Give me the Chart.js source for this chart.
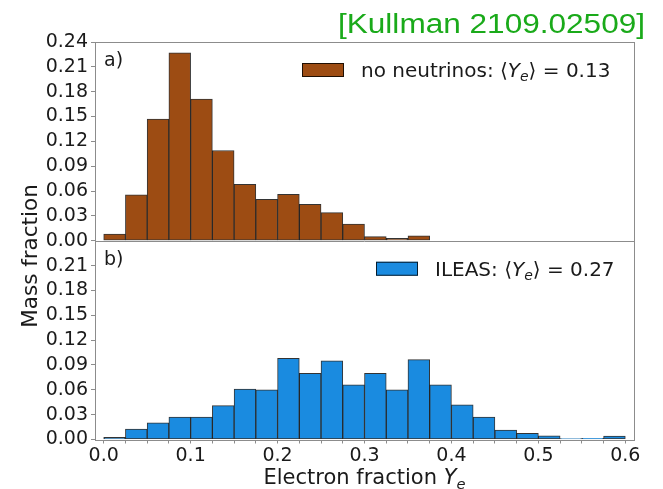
<!DOCTYPE html>
<html><head><meta charset="utf-8">
<script src="https://cdn.jsdelivr.net/npm/chart.js@4/dist/chart.umd.min.js"></script>
<style>html,body{margin:0;padding:0;background:#fff;}#wrap{width:663px;height:489px;position:relative;}</style>
</head><body><div id="wrap"><canvas id="c" width="663" height="489"></canvas></div>
<script>
// ---- data ----
const binCenters = [0.0125,0.0375,0.0625,0.0875,0.1125,0.1375,0.1625,0.1875,0.2125,0.2375,0.2625,0.2875,
                    0.3125,0.3375,0.3625,0.3875,0.4125,0.4375,0.4625,0.4875,0.5125,0.5375,0.5625,0.5875];
const noNeutrinos = [0.008,0.0555,0.147,0.227,0.171,0.109,0.068,0.050,0.056,0.044,0.034,0.020,
                     0.005,0.003,0.006,0,0,0,0,0,0,0,0,0];
const ileas = [0.0025,0.0125,0.020,0.027,0.027,0.041,0.061,0.060,0.098,0.080,0.095,0.066,
               0.080,0.060,0.0965,0.066,0.042,0.027,0.0113,0.0073,0.0045,0.001,0.0015,0.004];
const xMajorTicks = [0.0,0.1,0.2,0.3,0.4,0.5,0.6];
const xMinorTicks = [0.025,0.05,0.075,0.125,0.15,0.175,0.225,0.25,0.275,0.325,0.35,0.375,
                     0.425,0.45,0.475,0.525,0.55,0.575];
const yTicksTop = [0,0.03,0.06,0.09,0.12,0.15,0.18,0.21,0.24];
const yTicksBottom = [0,0.03,0.06,0.09,0.12,0.15,0.18,0.21];
const seriesNames = ['no neutrinos', 'ILEAS'];
const meanYe = ['0.13', '0.27'];
const panelLabels = ['a)', 'b)'];
const sourceLabel = '[Kullman 2109.02509]';
const xTitle = 'Electron fraction ';
const yTitle = 'Mass fraction';

// ---- styles ----
const BROWN = '#9d4c13';
const BLUE = '#1a8be0';
const EDGE = 'rgba(0,0,0,0.8)';
const GREY = '#8c8c8c';
const TXT = '#1a1a1a';
const FONT = 'DejaVu Sans';

function ds(vals, color, axis, name) {
  return {
    label: name,
    data: binCenters.map((x, i) => ({x: x, y: vals[i]})).filter(d => d.y > 0),
    yAxisID: axis,
    backgroundColor: color,
    borderColor: EDGE,
    borderWidth: 1,
    borderSkipped: false,
    grouped: false,
    barPercentage: 1,
    categoryPercentage: 1
  };
}

function yAxis(ticksArr) {
  return {
    type: 'linear', position: 'left', stack: 'panels', stackWeight: 1,
    min: 0, max: 0.24,
    afterBuildTicks: ax => { ax.ticks = ticksArr.map(v => ({value: v})); },
    afterFit: s => { s.width = 95; },
    ticks: { autoSkip: false, callback: v => v.toFixed(2), color: TXT, font: {family: FONT, size: 19}, padding: 3 },
    grid: { drawOnChartArea: false, tickLength: 4, color: GREY },
    border: { display: false }
  };
}

function drawMath(ctx, segs, x, y, align, size) {
  const fontFor = s => (s.italic ? 'oblique ' : '') + (s.sub ? (size * 0.7) : size) + 'px ' + FONT;
  let w = 0;
  for (const s of segs) { ctx.font = fontFor(s); w += ctx.measureText(s.t).width; }
  let cx = align === 'center' ? x - w / 2 : x;
  ctx.textAlign = 'left';
  ctx.textBaseline = 'alphabetic';
  for (const s of segs) {
    ctx.font = fontFor(s);
    ctx.fillText(s.t, cx, y + (s.sub ? size * 0.22 : 0));
    cx += ctx.measureText(s.t).width;
  }
  return w;
}

const overlay = {
  id: 'overlay',
  afterDatasetsDraw(chart) {
    const ctx = chart.ctx;
    const a = chart.chartArea;
    const mid = chart.scales.yTop.bottom;
    ctx.save();
    ctx.strokeStyle = GREY;
    ctx.lineWidth = 1;
    ctx.strokeRect(Math.round(a.left) + 0.5, Math.round(a.top) + 0.5,
                   Math.round(a.right - a.left), Math.round(a.bottom - a.top));
    ctx.beginPath();
    ctx.moveTo(a.left, Math.round(mid) + 0.5);
    ctx.lineTo(a.right, Math.round(mid) + 0.5);
    ctx.stroke();
    ctx.restore();
  },
  afterDraw(chart) {
    const ctx = chart.ctx;
    const a = chart.chartArea;
    const yT = chart.scales.yTop, yB = chart.scales.yBot;
    ctx.save();
    ctx.fillStyle = TXT;
    // panel labels
    ctx.font = '19px ' + FONT;
    ctx.textAlign = 'left'; ctx.textBaseline = 'alphabetic';
    ctx.fillText(panelLabels[0], a.left + 9, yT.top + 24);
    ctx.fillText(panelLabels[1], a.left + 9, yB.top + 24);
    // legends
    const legends = [
      {y: yT.top, color: BROWN, name: seriesNames[0], mean: meanYe[0], px: 302},
      {y: yB.top, color: BLUE, name: seriesNames[1], mean: meanYe[1], px: 376}
    ];
    for (const L of legends) {
      ctx.fillStyle = L.color;
      ctx.fillRect(L.px, L.y + 21, 42, 14);
      ctx.strokeStyle = EDGE; ctx.lineWidth = 1;
      ctx.strokeRect(L.px + 0.5, L.y + 21.5, 41, 13);
      ctx.fillStyle = TXT;
      drawMath(ctx, [
        {t: L.name + ': \u27E8'}, {t: 'Y', italic: true}, {t: 'e', italic: true, sub: true},
        {t: '\u27E9 = ' + L.mean}
      ], L.px + 59, L.y + 35, 'left', 20);
    }
    // x title
    drawMath(ctx, [{t: xTitle}, {t: 'Y', italic: true}, {t: 'e', italic: true, sub: true}],
             (a.left + a.right) / 2, 484, 'center', 21);
    // y title
    ctx.save();
    ctx.translate(37, 256);
    ctx.rotate(-Math.PI / 2);
    ctx.font = '21.5px ' + FONT;
    ctx.textAlign = 'center'; ctx.textBaseline = 'alphabetic';
    ctx.fillText(yTitle, 0, 0);
    ctx.restore();
    // source label
    ctx.font = '27px "Liberation Sans"';
    ctx.fillStyle = '#1aaa1a';
    const w = ctx.measureText(sourceLabel).width;
    ctx.save();
    ctx.translate(338, 33);
    ctx.scale(307 / w, 1);
    ctx.textAlign = 'left';
    ctx.fillText(sourceLabel, 0, 0);
    ctx.restore();
    ctx.restore();
  }
};

new Chart(document.getElementById('c'), {
  type: 'bar',
  data: { datasets: [
    ds(noNeutrinos, BROWN, 'yTop', seriesNames[0]),
    ds(ileas, BLUE, 'yBot', seriesNames[1])
  ]},
  options: {
    responsive: false, animation: false, devicePixelRatio: 1,
    layout: { padding: { left: 0, right: 29, top: 42, bottom: 0 } },
    plugins: { legend: { display: false }, tooltip: { enabled: false } },
    scales: {
      x: {
        type: 'linear', min: -0.01, max: 0.61, offset: false,
        afterBuildTicks: ax => { ax.ticks = xMajorTicks.concat(xMinorTicks).sort((p, q) => p - q).map(v => ({value: v})); },
        afterFit: s => { s.height = 49.5; },
        ticks: {
          autoSkip: false, maxRotation: 0,
          callback: v => xMajorTicks.some(m => Math.abs(m - v) < 1e-9) ? v.toFixed(1) : '',
          color: TXT, font: {family: FONT, size: 19}, padding: 1
        },
        grid: { offset: false, drawOnChartArea: false, tickLength: 4, color: GREY },
        border: { display: false }
      },
      yBot: yAxis(yTicksBottom),
      yTop: yAxis(yTicksTop)
    }
  },
  plugins: [overlay]
});
</script></body></html>
